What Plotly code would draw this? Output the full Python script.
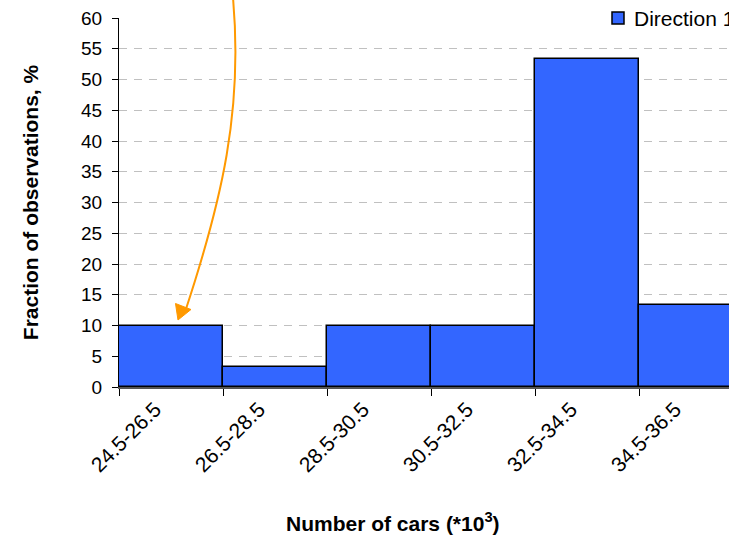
import plotly.graph_objects as go

# Histogram of daily traffic counts
categories = ["24.5-26.5", "26.5-28.5", "28.5-30.5", "30.5-32.5", "32.5-34.5", "34.5-36.5"]
fraction_pct = [10.0, 3.3, 10.0, 10.0, 53.3, 13.3]
y_ticks = list(range(0, 61, 5))
series_name = "Direction 1"
bar_color = "#3366FF"

W, H = 729, 539
L, R, T, B = 119, 0, 18, 152
plot_w = W - L - R
plot_h = H - T - B


def px_to_paper(px, py):
    return (px - L) / plot_w, (H - B - py) / plot_h


fig = go.Figure()
fig.add_trace(go.Bar(
    x=categories,
    y=fraction_pct,
    name=series_name,
    marker=dict(color=bar_color, line=dict(color="#000000", width=1.5)),
    showlegend=False,
))

# Curved orange callout arrow pointing at the first bin
p0, c1, c2, p1 = [px_to_paper(x, y) for x, y in [(233, -2), (243, 110), (222, 200), (185, 312)]]
path = "M {:.4f},{:.4f} C {:.4f},{:.4f} {:.4f},{:.4f} {:.4f},{:.4f}".format(*p0, *c1, *c2, *p1)
fig.add_shape(type="path", path=path, xref="paper", yref="paper",
              line=dict(color="#FF9900", width=2))

head = [px_to_paper(*p) for p in [(175.5, 303.5), (191, 309.5), (178, 320)]]
head_path = "M {:.4f},{:.4f} L {:.4f},{:.4f} L {:.4f},{:.4f} Z".format(*head[0], *head[1], *head[2])
fig.add_shape(type="path", path=head_path, xref="paper", yref="paper",
              fillcolor="#FF9900", line=dict(color="#FF9900", width=1))

# Legend key running off the right edge of the chart
k0 = px_to_paper(612, 24)
k1 = px_to_paper(624, 12)
fig.add_shape(type="rect", xref="paper", yref="paper",
              x0=k0[0], y0=k0[1], x1=k1[0], y1=k1[1],
              fillcolor=bar_color, line=dict(color="#000000", width=1.5))
lx, ly = px_to_paper(632, 18.5)
fig.add_annotation(
    text=series_name, xref="paper", yref="paper", x=lx, y=ly,
    xanchor="left", yanchor="middle", showarrow=False,
    font=dict(size=21, color="#000000"),
)

fig.add_annotation(
    text="<b>Number of cars (*10<sup>3</sup>)</b>",
    xref="paper", yref="paper",
    x=(393 - L) / plot_w, y=(H - B - 522) / plot_h,
    xanchor="center", yanchor="middle", showarrow=False,
    font=dict(size=21, color="#000000"),
)

fig.update_layout(
    width=W, height=H,
    margin=dict(l=L, r=R, t=T, b=B, pad=0),
    paper_bgcolor="white", plot_bgcolor="white",
    bargap=0,
    font=dict(family="Liberation Sans, Arial, sans-serif", color="#000000"),
    showlegend=False,
    xaxis=dict(
        range=[-0.5, -0.5 + plot_w / 104.0],
        tickson="boundaries", ticks="outside", ticklen=7, tickcolor="#000000",
        tickangle=-45, tickfont=dict(size=21), ticklabelshift=-16,
        showline=True, linecolor="#555555", linewidth=1.5,
        showgrid=False, zeroline=False,
    ),
    yaxis=dict(
        range=[0, 60], tickvals=y_ticks,
        ticks="outside", ticklen=6, tickcolor="#000000",
        tickfont=dict(size=19), ticklabelstandoff=6,
        showline=True, linecolor="#000000", linewidth=1,
        showgrid=True, gridcolor="#C0C0C0", gridwidth=1, griddash="8px,7px",
        zeroline=False,
        title=dict(text="<b>Fraction of observations, %</b>", font=dict(size=21), standoff=36),
    ),
)

fig.write_html("out.html")
